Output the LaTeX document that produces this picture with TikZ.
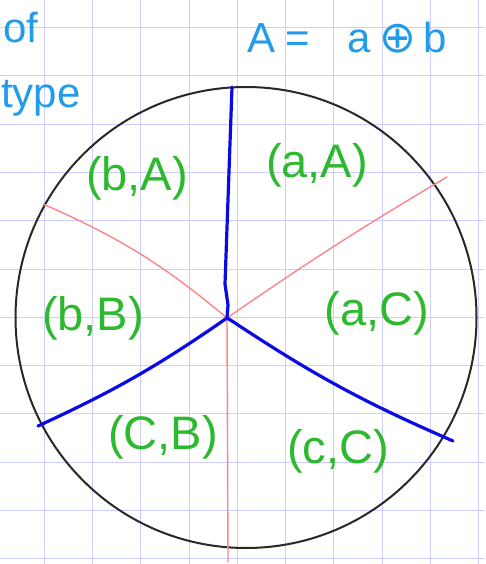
\documentclass[tikz,border=0pt]{standalone}
\usepackage{fontspec}
\setmainfont{Liberation Sans}
\newfontfamily\symfont{DejaVu Sans}
\usetikzlibrary{positioning}
\definecolor{gridlilac}{RGB}{205,205,255}
\definecolor{inkblue}{RGB}{35,155,235}
\definecolor{inkgreen}{RGB}{45,185,45}
\definecolor{cutblue}{RGB}{10,10,230}
\definecolor{cutred}{RGB}{250,135,135}
\definecolor{rimgray}{RGB}{40,40,40}

\begin{document}
\begin{tikzpicture}[x=1pt, y=-1pt,
  gridline/.style={draw=gridlilac, line width=1pt},
  rim/.style={draw=rimgray, line width=2pt},
  bluecut/.style={draw=cutblue, line width=3.2pt, line cap=round, line join=round},
  redcut/.style={draw=cutred, line width=1.4pt, line cap=round},
  pairlbl/.style={text=inkgreen, font=\fontsize{47}{50}\selectfont, inner sep=0pt},
  notetxt/.style={text=inkblue, font=\fontsize{42}{46}\selectfont, inner sep=0pt}
]
\useasboundingbox (0,0) rectangle (485,564);
\fill[white] (0,0) rectangle (485,564);

% squared paper
\foreach \gx in {0,...,9}
  \draw[gridline] ({44.3+48.25*\gx},0) -- ({44.3+48.25*\gx},564);
\foreach \gy in {0,...,11}
  \draw[gridline] (0,{27.5+48.3*\gy}) -- (485,{27.5+48.3*\gy});

% notes at the top
\node[notetxt, anchor=west] (of) at (3,28) {of};
\node[notetxt, anchor=west] (type) at (1,98) {type};
\node[notetxt, anchor=west] (rule) at (247,38)
  {A\hspace{10pt}=\hspace{38pt}a\hspace{8pt}{\symfont\fontsize{44}{46}\selectfont ⊕}\hspace{8pt}b};

% the disc
\coordinate (mid) at (246,317.5);
\draw[rim] (mid) circle[radius=230.5pt];

\coordinate (hub) at (227,318);
\coordinate (hubr) at (232,321);
\coordinate (btop) at (232,87);
\coordinate (bleft) at (38,426);
\coordinate (bright) at (453,441);
\coordinate (rleft) at (43,204);
\coordinate (rright) at (447,177);
\coordinate (rdown) at (228,562);

% red cuts
\draw[redcut] (rleft) to[bend left=8] (hub);
\draw[redcut] (hub) to[bend left=2] (rright);
\draw[redcut] (hub) -- (rdown);

% blue cuts
\draw[bluecut] (hub) -- (228,305) -- (225,284) -- (btop);
\draw[bluecut] (hub) to[bend left=5] (bleft);
\draw[bluecut] (hub) -- (hubr) to[bend right=5] (bright);

% pairs in the sectors
\node[pairlbl] (bA) at (137,178) {(b,A)};
\node[pairlbl] (aA) at (317,165) {(a,A)};
\node[pairlbl] (bB) at (93,318) {(b,B)};
\node[pairlbl] (aC) at (377,313) {(a,C)};
\node[pairlbl] (CB) at (163,437) {(C,B)};
\node[pairlbl] (cC) at (338,451) {(c,C)};
\end{tikzpicture}
\end{document}
